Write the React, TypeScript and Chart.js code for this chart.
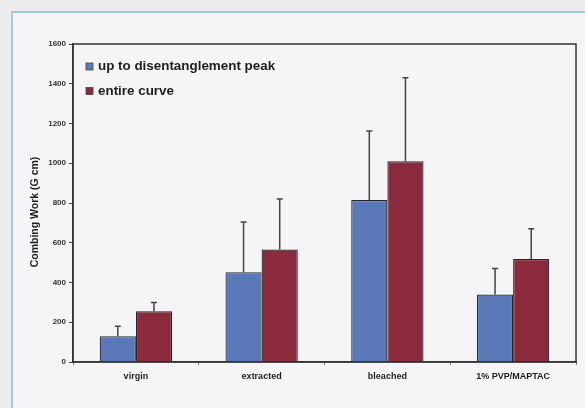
import React, { useEffect, useRef } from "react";
import { Chart, registerables } from "chart.js";

Chart.register(...registerables);

const categories = ["virgin", "extracted", "bleached", "1% PVP/MAPTAC"];
const peakValues = [130, 452, 815, 340];
const peakErrors = [50, 253, 347, 131];
const curveValues = [255, 566, 1010, 518];
const curveErrors = [45, 254, 420, 152];
const seriesLabels = ["up to disentanglement peak", "entire curve"];
const yTicks = [0, 200, 400, 600, 800, 1000, 1200, 1400, 1600];
const yTitle = "Combing Work (G cm)";

const BLUE = "#5b78b8";
const RED = "#8a2a3b";

const decorPlugin = {
  id: "decor",
  beforeDraw(chart: any) {
    const ctx = chart.ctx;
    ctx.save();
    ctx.fillStyle = "#ececef";
    ctx.fillRect(0, 0, chart.width, chart.height);
    ctx.fillStyle = "#f5f5f7";
    ctx.fillRect(12, 12, chart.width - 12, chart.height - 12);
    ctx.strokeStyle = "#9fcbdc";
    ctx.lineWidth = 2;
    ctx.beginPath();
    ctx.moveTo(12, chart.height);
    ctx.lineTo(12, 12);
    ctx.lineTo(chart.width, 12);
    ctx.stroke();
    ctx.restore();
  },
  afterDatasetsDraw(chart: any) {
    const ctx = chart.ctx;
    const y = chart.scales.y;
    const errs = [peakErrors, curveErrors];
    ctx.save();
    ctx.strokeStyle = "#444";
    ctx.lineWidth = 1.5;
    chart.data.datasets.forEach((ds: any, di: number) => {
      const meta = chart.getDatasetMeta(di);
      meta.data.forEach((bar: any, i: number) => {
        const v = ds.data[i];
        const top = y.getPixelForValue(v + errs[di][i]);
        const base = y.getPixelForValue(v);
        ctx.beginPath();
        ctx.moveTo(bar.x, base);
        ctx.lineTo(bar.x, top);
        ctx.moveTo(bar.x - 3, top);
        ctx.lineTo(bar.x + 3, top);
        ctx.stroke();
      });
    });
    ctx.restore();
  },
  afterDraw(chart: any) {
    const ctx = chart.ctx;
    const a = chart.chartArea;
    ctx.save();
    ctx.strokeStyle = "#333";
    ctx.lineWidth = 1.5;
    ctx.strokeRect(a.left, a.top, a.right - a.left, a.bottom - a.top);
    // legend
    ctx.font = "bold 13.4px 'Liberation Sans', Arial, sans-serif";
    ctx.textBaseline = "middle";
    chart.data.datasets.forEach((ds: any, i: number) => {
      const cy = 66.5 + i * 24.5;
      ctx.fillStyle = ds.backgroundColor;
      ctx.fillRect(86, cy - 3.5, 7, 7);
      ctx.strokeStyle = "#444";
      ctx.lineWidth = 0.8;
      ctx.strokeRect(86, cy - 3.5, 7, 7);
      ctx.fillStyle = "#1e1e1e";
      ctx.fillText(ds.label, 98, cy);
    });
    // y title
    ctx.translate(35, 212);
    ctx.rotate(-Math.PI / 2);
    ctx.font = "bold 10.5px 'Liberation Sans', Arial, sans-serif";
    ctx.textAlign = "center";
    ctx.fillStyle = "#1e1e1e";
    ctx.fillText(yTitle, 0, 0);
    ctx.restore();
  },
};

export default function App() {
  const ref = useRef<HTMLCanvasElement | null>(null);
  useEffect(() => {
    document.body.style.margin = "0";
    const chart = new Chart(ref.current as HTMLCanvasElement, {
      type: "bar",
      data: {
        labels: categories,
        datasets: [
          {
            label: seriesLabels[0],
            data: peakValues,
            backgroundColor: BLUE,
            borderColor: "#26262e",
            borderWidth: 1.2,
            categoryPercentage: 0.575,
            barPercentage: 1,
          },
          {
            label: seriesLabels[1],
            data: curveValues,
            backgroundColor: RED,
            borderColor: "#26262e",
            borderWidth: 1.2,
            categoryPercentage: 0.575,
            barPercentage: 1,
          },
        ],
      },
      options: {
        animation: false,
        responsive: false,
        layout: { padding: { top: 44, right: 9, left: 0, bottom: 0 } },
        plugins: { legend: { display: false }, tooltip: { enabled: false } },
        scales: {
          x: {
            afterFit: (s: any) => {
              s.height = 46;
            },
            grid: {
              drawOnChartArea: false,
              drawTicks: true,
              tickLength: 3,
              color: "#777",
            },
            border: { display: true, color: "#333", width: 1.5 },
            ticks: {
              padding: 6,
              color: "#1e1e1e",
              font: { family: "'Liberation Sans', Arial, sans-serif", size: 9, weight: "bold" },
            },
          },
          y: {
            min: 0,
            max: 1600,
            afterFit: (s: any) => {
              s.width = 73;
            },
            afterBuildTicks: (s: any) => {
              s.ticks = yTicks.map((v) => ({ value: v }));
            },
            grid: {
              drawOnChartArea: false,
              drawTicks: true,
              tickLength: 4,
              color: "#444",
            },
            border: { display: true, color: "#333", width: 1.5 },
            ticks: {
              padding: 3,
              color: "#333",
              callback: (v: any) => String(v),
              font: { family: "'Liberation Sans', Arial, sans-serif", size: 8, weight: "bold" },
            },
          },
        },
      },
      plugins: [decorPlugin],
    } as any);
    return () => chart.destroy();
  }, []);
  return <canvas ref={ref} width={585} height={408} style={{ display: "block" }} />;
}
